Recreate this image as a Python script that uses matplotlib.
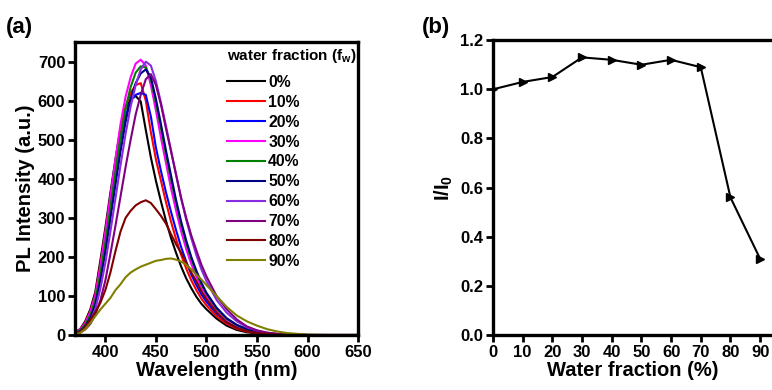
import numpy as np
import matplotlib
matplotlib.use("Agg")
import matplotlib.pyplot as plt

plt.rcParams["font.family"] = ["Liberation Sans", "DejaVu Sans"]
plt.rcParams["font.weight"] = "bold"
plt.rcParams["mathtext.fontset"] = "custom"
plt.rcParams["mathtext.rm"] = "Liberation Sans:bold"
plt.rcParams["mathtext.default"] = "rm"

# panel (a): PL spectra
wavelength = [370, 375, 380, 385, 390, 395, 400, 405, 410, 415, 420, 425, 430, 435, 440,
              445, 450, 455, 460, 465, 470, 475, 480, 485, 490, 495, 500, 510, 520, 530,
              540, 550, 560, 570, 580, 600, 620, 650]

pl_0 = [8, 15, 35, 65, 110, 190, 275, 365, 450, 530, 580, 603, 612, 598, 525,
        455, 395, 342, 292, 248, 210, 175, 145, 120, 98, 80, 66, 42, 24, 13,
        7, 4, 2, 1, 0, 0, 0, 0]
pl_10 = [8, 14, 32, 60, 102, 178, 262, 352, 440, 525, 585, 620, 640, 645, 600,
         520, 450, 395, 340, 290, 245, 205, 170, 140, 115, 93, 76, 48, 29, 16,
         9, 5, 3, 1, 0, 0, 0, 0]
pl_20 = [6, 12, 28, 52, 90, 160, 240, 330, 418, 500, 560, 600, 615, 620, 615,
         560, 480, 420, 365, 315, 268, 225, 188, 155, 128, 104, 85, 55, 33, 19,
         11, 6, 3, 2, 1, 0, 0, 0]
pl_30 = [7, 14, 30, 58, 100, 175, 262, 355, 450, 540, 610, 660, 695, 705, 690,
         640, 575, 505, 440, 375, 318, 265, 220, 182, 150, 122, 100, 65, 40, 24,
         14, 8, 4, 2, 1, 0, 0, 0]
pl_40 = [6, 12, 26, 50, 88, 155, 235, 325, 415, 505, 580, 635, 672, 688, 685,
         655, 595, 530, 462, 398, 338, 283, 235, 195, 160, 130, 106, 68, 42, 25,
         15, 8, 4, 2, 1, 0, 0, 0]
pl_50 = [5, 10, 22, 43, 78, 138, 212, 298, 385, 470, 545, 605, 645, 670, 680,
         660, 605, 540, 472, 408, 345, 290, 242, 200, 165, 134, 108, 70, 43, 26,
         15, 8, 4, 2, 1, 0, 0, 0]
pl_60 = [4, 8, 18, 36, 65, 118, 185, 265, 350, 435, 515, 585, 640, 680, 700,
         690, 650, 595, 535, 472, 410, 350, 295, 248, 205, 168, 138, 90, 57, 35,
         20, 11, 6, 3, 1, 0, 0, 0]
pl_70 = [3, 6, 14, 28, 52, 88, 140, 208, 280, 355, 430, 500, 565, 615, 655,
         668, 640, 590, 528, 470, 410, 350, 300, 255, 217, 180, 150, 100, 66, 40,
         22, 12, 6, 3, 1, 0, 0, 0]
pl_80 = [3, 8, 20, 38, 58, 82, 115, 160, 215, 265, 300, 318, 332, 340, 345,
         338, 322, 305, 285, 258, 232, 210, 185, 160, 138, 112, 92, 58, 33, 18,
         10, 5, 3, 1, 0, 0, 0, 0]
pl_90 = [2, 5, 15, 30, 48, 65, 80, 95, 115, 130, 148, 160, 168, 175, 180,
         185, 190, 192, 195, 196, 193, 188, 180, 168, 155, 142, 128, 100, 72, 50,
         35, 24, 15, 9, 5, 1, 0, 0]

spectra = [pl_0, pl_10, pl_20, pl_30, pl_40, pl_50, pl_60, pl_70, pl_80, pl_90]
labels = ["0%", "10%", "20%", "30%", "40%", "50%", "60%", "70%", "80%", "90%"]
colors = ["black", "#ff0000", "#0000ff", "#ff00ff", "#008000", "#000080",
          "#8a2be2", "#800080", "#800000", "#808000"]

# panel (b): relative intensity
fraction = [0, 10, 20, 30, 40, 50, 60, 70, 80, 90]
ratio = [1.00, 1.03, 1.05, 1.13, 1.12, 1.10, 1.12, 1.09, 0.56, 0.31]

fig = plt.figure(figsize=(7.72, 3.9), dpi=100)
ax1 = fig.add_axes([0.0972, 0.141, 0.3666, 0.751])
ax2 = fig.add_axes([0.6386, 0.141, 0.3614, 0.756])

for y, lab, c in zip(spectra, labels, colors):
    ax1.plot(wavelength, y, color=c, lw=1.5, label=lab)

ax1.set_xlim(370, 650)
ax1.set_ylim(0, 750)
ax1.set_xticks([400, 450, 500, 550, 600, 650])
ax1.set_yticks(range(0, 701, 100))
ax1.set_xlabel("Wavelength (nm)", fontsize=14.5, fontweight="bold", labelpad=1)
ax1.set_ylabel("PL Intensity (a.u.)", fontsize=14.5, fontweight="bold", labelpad=2)
leg = ax1.legend(title=r"water fraction (f$_{w}$)", frameon=False, fontsize=11.3,
                 title_fontsize=11, handlelength=2.4, handletextpad=0.2,
                 labelspacing=0.31, loc="upper right", bbox_to_anchor=(1.035, 1.02),
                 borderaxespad=0.3)
leg.get_title().set_fontweight("bold")
for t in leg.get_texts():
    t.set_fontweight("bold")
leg._legend_box.align = "left"
leg._legend_box.sep = 7

ax2.plot(fraction, ratio, color="black", lw=1.5, marker=">", markersize=6)
ax2.set_xlim(0, 94)
ax2.set_ylim(0, 1.2)
ax2.set_xticks(fraction)
ax2.set_yticks([0.0, 0.2, 0.4, 0.6, 0.8, 1.0, 1.2])
ax2.set_yticklabels(["0.0", "0.2", "0.4", "0.6", "0.8", "1.0", "1.2"])
ax2.set_xlabel("Water fraction (%)", fontsize=14.5, fontweight="bold", labelpad=1)
ax2.set_ylabel(r"I/I$_0$", fontsize=14.5, fontweight="bold", labelpad=4)
ax2.spines["right"].set_visible(False)

for ax in (ax1, ax2):
    for s in ax.spines.values():
        s.set_linewidth(2.4)
    ax.tick_params(direction="out", length=5, width=2, labelsize=12, pad=2)

fig.text(0.008, 0.915, "(a)", fontsize=16, fontweight="bold")
fig.text(0.547, 0.915, "(b)", fontsize=16, fontweight="bold")

fig.savefig("out.png", dpi=100)
